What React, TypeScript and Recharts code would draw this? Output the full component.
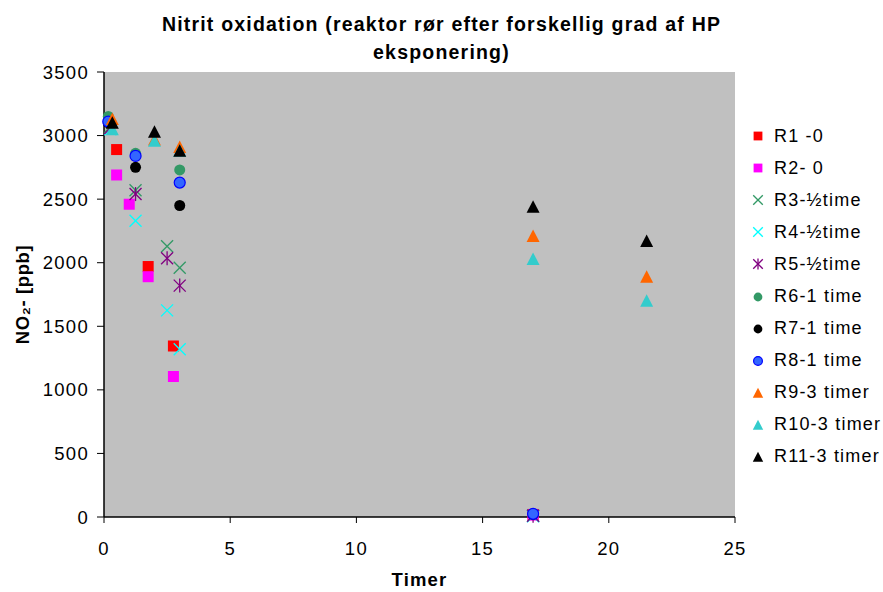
import React from "react";
import {
  CartesianGrid,
  Scatter,
  ScatterChart,
  XAxis,
  YAxis,
} from "recharts";

// hours vs NO2- (ppb)
const r1 = [{ t: 0.5, v: 2890 }, { t: 1.75, v: 1970 }, { t: 2.75, v: 1345 }, { t: 17, v: 20 }];
const r2 = [{ t: 0.5, v: 2690 }, { t: 1, v: 2460 }, { t: 1.75, v: 1890 }, { t: 2.75, v: 1105 }, { t: 17, v: 15 }];
const r3 = [{ t: 0.25, v: 3070 }, { t: 1.25, v: 2570 }, { t: 2.5, v: 2130 }, { t: 3, v: 1960 }, { t: 17, v: 10 }];
const r4 = [{ t: 0.25, v: 3050 }, { t: 1.25, v: 2330 }, { t: 2.5, v: 1625 }, { t: 3, v: 1320 }, { t: 17, v: 5 }];
const r5 = [{ t: 0.25, v: 3060 }, { t: 1.25, v: 2540 }, { t: 2.5, v: 2035 }, { t: 3, v: 1820 }, { t: 17, v: 10 }];
const r6 = [{ t: 0.17, v: 3150 }, { t: 1.25, v: 2860 }, { t: 3, v: 2730 }, { t: 17, v: 25 }];
const r7 = [{ t: 0.17, v: 3100 }, { t: 1.25, v: 2750 }, { t: 3, v: 2450 }, { t: 17, v: 20 }];
const r8 = [{ t: 0.17, v: 3110 }, { t: 1.25, v: 2840 }, { t: 3, v: 2630 }, { t: 17, v: 25 }];
const r9 = [{ t: 0.33, v: 3130 }, { t: 2, v: 2970 }, { t: 3, v: 2910 }, { t: 17, v: 2210 }, { t: 21.5, v: 1890 }];
const r10 = [{ t: 0.33, v: 3050 }, { t: 2, v: 2960 }, { t: 3, v: 2880 }, { t: 17, v: 2030 }, { t: 21.5, v: 1700 }];
const r11 = [{ t: 0.33, v: 3100 }, { t: 2, v: 3030 }, { t: 3, v: 2880 }, { t: 17, v: 2440 }, { t: 21.5, v: 2170 }];

const xTicks = [0, 5, 10, 15, 20, 25];
const yTicks = [0, 500, 1000, 1500, 2000, 2500, 3000, 3500];

type Kind = "square" | "x" | "star" | "circle" | "triangle";

const series: { name: string; data: { t: number; v: number }[]; kind: Kind; color: string; stroke?: string }[] = [
  { name: "R1 -0", data: r1, kind: "square", color: "#ff0000" },
  { name: "R2- 0", data: r2, kind: "square", color: "#ff00ff" },
  { name: "R3-½time", data: r3, kind: "x", color: "#339966" },
  { name: "R4-½time", data: r4, kind: "x", color: "#00ffff" },
  { name: "R5-½time", data: r5, kind: "star", color: "#800080" },
  { name: "R6-1 time", data: r6, kind: "circle", color: "#339966" },
  { name: "R7-1 time", data: r7, kind: "circle", color: "#000000" },
  { name: "R8-1 time", data: r8, kind: "circle", color: "#3366ff", stroke: "#0000ff" },
  { name: "R9-3 timer", data: r9, kind: "triangle", color: "#ff6600" },
  { name: "R10-3 timer", data: r10, kind: "triangle", color: "#33cccc" },
  { name: "R11-3 timer", data: r11, kind: "triangle", color: "#000000" },
];

const FONT = "'Liberation Sans', Arial, sans-serif";
const tickStyle = { fill: "#000", fontSize: 18.5, fontFamily: FONT, letterSpacing: 1.3 };

function Marker({ kind, color, stroke, cx, cy, s = 1 }: { kind: Kind; color: string; stroke?: string; cx: number; cy: number; s?: number }) {
  const h = 5.5 * s;
  switch (kind) {
    case "square":
      return <rect x={cx - h} y={cy - h} width={2 * h} height={2 * h} fill={color} />;
    case "circle":
      return <circle cx={cx} cy={cy} r={h} fill={color} stroke={stroke ?? color} strokeWidth={stroke ? 1.2 : 0} />;
    case "triangle":
      return (
        <polygon
          points={`${cx},${cy - 6.5 * s} ${cx - 6.5 * s},${cy + 6 * s} ${cx + 6.5 * s},${cy + 6 * s}`}
          fill={color}
        />
      );
    case "x":
      return (
        <g stroke={color} strokeWidth={1.3}>
          <line x1={cx - 6 * s} y1={cy - 6 * s} x2={cx + 6 * s} y2={cy + 6 * s} />
          <line x1={cx - 6 * s} y1={cy + 6 * s} x2={cx + 6 * s} y2={cy - 6 * s} />
        </g>
      );
    case "star":
      return (
        <g stroke={color} strokeWidth={1.3}>
          <line x1={cx - 6 * s} y1={cy - 6 * s} x2={cx + 6 * s} y2={cy + 6 * s} />
          <line x1={cx - 6 * s} y1={cy + 6 * s} x2={cx + 6 * s} y2={cy - 6 * s} />
          <line x1={cx} y1={cy - 7 * s} x2={cx} y2={cy + 7 * s} />
        </g>
      );
  }
}

export default function App() {
  return (
    <div style={{ position: "absolute", left: 0, top: 0, width: 883, height: 592, background: "#fff", fontFamily: FONT }}>
      <div
        style={{
          position: "absolute",
          left: 0,
          top: 10,
          width: 883,
          textAlign: "center",
          fontWeight: "bold",
          fontSize: 19.5,
          letterSpacing: 1.2,
          lineHeight: "28px",
          color: "#000",
        }}
      >
        <div style={{ position: "relative", left: 0 }}>Nitrit oxidation (reaktor rør efter forskellig grad af HP</div>
        <div style={{ position: "relative", left: 0 }}>eksponering)</div>
      </div>
      <ScatterChart width={883} height={592} margin={{ top: 72, right: 148, bottom: 0, left: 0 }}>
        <CartesianGrid horizontal={false} vertical={false} fill="#c0c0c0" />
        <XAxis
          type="number"
          dataKey="t"
          domain={[0, 25]}
          ticks={xTicks}
          height={75}
          tick={tickStyle}
          tickLine={{ stroke: "#000" }}
          axisLine={{ stroke: "#000", strokeWidth: 1.5 }}
          tickSize={6}
          tickMargin={19}
          label={{ value: "Timer", position: "insideBottom", offset: 6, fill: "#000", fontSize: 18.5, fontWeight: "bold", fontFamily: FONT, letterSpacing: 1.2 }}
        />
        <YAxis
          type="number"
          dataKey="v"
          domain={[0, 3500]}
          ticks={yTicks}
          width={104}
          tick={tickStyle}
          tickLine={{ stroke: "#000" }}
          axisLine={{ stroke: "#000", strokeWidth: 1.5 }}
          tickSize={7}
          tickMargin={8}
          label={{ value: "NO₂- [ppb]", angle: -90, position: "insideLeft", offset: 22, fill: "#000", fontSize: 18.5, fontWeight: "bold", fontFamily: FONT, letterSpacing: 0.6, style: { textAnchor: "middle" } }}
        />
        {series.map((s) => (
          <Scatter
            key={s.name}
            name={s.name}
            data={s.data}
            isAnimationActive={false}
            shape={(p: any) => <Marker kind={s.kind} color={s.color} stroke={s.stroke} cx={p.cx} cy={p.cy} />}
          />
        ))}
      </ScatterChart>
      <div style={{ position: "absolute", left: 748, top: 120, fontSize: 18, letterSpacing: 1.2, color: "#000" }}>
        {series.map((s) => (
          <div key={s.name} style={{ height: 32.1, display: "flex", alignItems: "center", whiteSpace: "nowrap" }}>
            <svg width={22} height={20} style={{ marginRight: 4 }}>
              <Marker kind={s.kind} color={s.color} stroke={s.stroke} cx={10} cy={10} s={0.8} />
            </svg>
            <span>{s.name}</span>
          </div>
        ))}
      </div>
    </div>
  );
}
